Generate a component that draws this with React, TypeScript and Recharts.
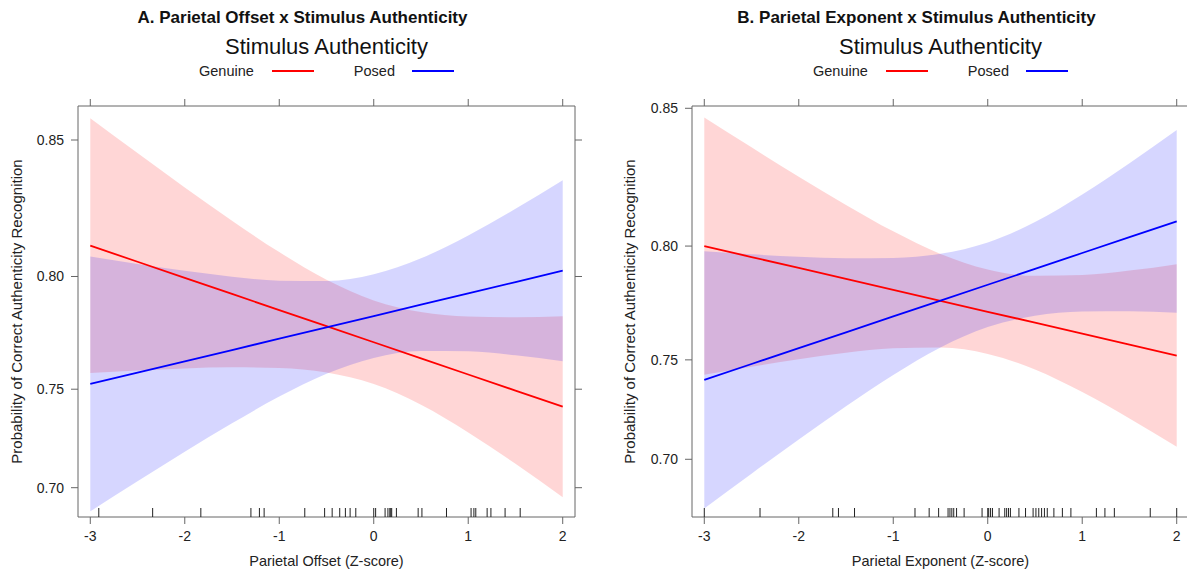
import React from "react";
import { ComposedChart, Area, Line, Scatter, XAxis, YAxis, Label } from "recharts";

// z-score grid the effects were evaluated at
const zGrid = [-3, -2.5, -2, -1.5, -1, -0.5, 0, 0.5, 1, 1.5, 2];

// A. Parietal Offset — predicted probabilities + 95% band
const offsetGenuineFit = [0.8123, 0.80595, 0.79945, 0.79277, 0.78594, 0.77894, 0.77179, 0.76447, 0.75698, 0.74934, 0.74154];
const offsetGenuineLower = [0.75767, 0.75889, 0.75983, 0.76034, 0.75998, 0.75788, 0.75243, 0.74247, 0.72875, 0.71261, 0.69489];
const offsetGenuineUpper = [0.85694, 0.8457, 0.83392, 0.82182, 0.80977, 0.79866, 0.79005, 0.78511, 0.78317, 0.78281, 0.78328];
const offsetPosedFit = [0.7525, 0.75784, 0.76311, 0.76829, 0.7734, 0.77842, 0.78336, 0.78823, 0.79301, 0.79772, 0.80234];
const offsetPosedLower = [0.68717, 0.70342, 0.71889, 0.73336, 0.74644, 0.75733, 0.76469, 0.76779, 0.76768, 0.76586, 0.76316];
const offsetPosedUpper = [0.80801, 0.80505, 0.80229, 0.7999, 0.79827, 0.79818, 0.80094, 0.80732, 0.81624, 0.82622, 0.83643];
const offsetRug = [
  -2.91, -2.34, -1.83, -1.3, -1.21, -1.16, -0.73, -0.52, -0.44, -0.36, -0.3, -0.25, -0.19, 0.0, 0.02,
  0.12, 0.15, 0.17, 0.18, 0.19, 0.24, 0.47, 0.51, 0.77, 1.03, 1.06, 1.08, 1.2, 1.24, 1.39, 1.55,
];

// B. Parietal Exponent
const exponentGenuineFit = [0.8, 0.79553, 0.791, 0.78638, 0.7817, 0.77695, 0.77211, 0.76721, 0.76224, 0.7572, 0.75206];
const exponentGenuineLower = [0.74292, 0.74674, 0.75028, 0.75331, 0.75542, 0.75577, 0.75279, 0.74541, 0.73441, 0.72117, 0.70655];
const exponentGenuineUpper = [0.84702, 0.83698, 0.82659, 0.81613, 0.80588, 0.7968, 0.79036, 0.78768, 0.788, 0.7899, 0.79258];
const exponentPosedFit = [0.7404, 0.74804, 0.7555, 0.76283, 0.77001, 0.77703, 0.78389, 0.79062, 0.79718, 0.80356, 0.80982];
const exponentPosedLower = [0.67326, 0.6923, 0.7104, 0.72736, 0.74279, 0.75586, 0.76525, 0.77033, 0.7722, 0.77236, 0.7717];
const exponentPosedUpper = [0.7979, 0.79665, 0.79561, 0.79499, 0.79516, 0.79688, 0.80144, 0.80954, 0.82003, 0.83142, 0.84286];
const exponentRug = [
  -3.0, -2.41, -1.64, -1.58, -1.41, -0.77, -0.62, -0.52, -0.42, -0.4, -0.38, -0.36, -0.33, -0.25, -0.06,
  0.0, 0.01, 0.03, 0.05, 0.12, 0.18, 0.2, 0.22, 0.24, 0.33, 0.4, 0.48, 0.51, 0.54, 0.57, 0.6, 0.63, 0.7,
  0.79, 0.88, 1.15, 1.24, 1.34, 1.72, 2.0,
];

const xTicks = [-3, -2, -1, 0, 1, 2];
const probTicks = [0.7, 0.75, 0.8, 0.85];

const RED = "#ff0000";
const BLUE = "#0000ff";
const AXIS = "#666666";
const FONT = '"Liberation Sans", Arial, Helvetica, sans-serif';

// y axis is on the logit scale, labelled in probabilities
const logit = (p: number) => Math.log(p / (1 - p));
const invLogit = (v: number) => 1 / (1 + Math.exp(-v));

function buildRows(
  fitG: number[], loG: number[], hiG: number[],
  fitP: number[], loP: number[], hiP: number[]
) {
  return zGrid.map((x, i) => ({
    x,
    genuine: logit(fitG[i]),
    genuineBand: [logit(loG[i]), logit(hiG[i])],
    posed: logit(fitP[i]),
    posedBand: [logit(loP[i]), logit(hiP[i])],
  }));
}

const blankTick = () => <g />;

const RugMark = (props: any) => (
  <line x1={props.cx} x2={props.cx} y1={props.cy} y2={props.cy - 9} stroke="#222" strokeWidth={1} />
);

interface PanelProps {
  left: number;
  title: string;
  xLabel: string;
  rows: any[];
  rug: number[];
  yDomain: [number, number];
  axisWidth: number;
  chartWidth: number;
  yLabelOffset: number;
}

function Panel({ left, title, xLabel, rows, rug, yDomain, axisWidth, chartWidth, yLabelOffset }: PanelProps) {
  const plotLeft = axisWidth;
  const plotRight = chartWidth - 25;
  const plotCenter = (plotLeft + plotRight) / 2;
  const rugRows = rug.map((x) => ({ x, y: yDomain[0] }));
  const yTicks = probTicks.map(logit);

  return (
    <div style={{ position: "absolute", left, top: 0, width: chartWidth, height: 572 }}>
      <div
        style={{
          position: "absolute",
          left: plotCenter - 24 - 300,
          width: 600,
          top: 8,
          textAlign: "center",
          fontSize: 17,
          fontWeight: "bold",
          lineHeight: "20px",
          color: "#111",
        }}
      >
        {title}
      </div>
      <div
        style={{
          position: "absolute",
          left: plotCenter - 300,
          width: 600,
          top: 34,
          textAlign: "center",
          fontSize: 22,
          lineHeight: "26px",
          color: "#111",
        }}
      >
        Stimulus Authenticity
      </div>
      <div
        style={{
          position: "absolute",
          left: plotCenter - 300,
          width: 600,
          top: 62,
          height: 18,
          display: "flex",
          justifyContent: "center",
          alignItems: "center",
          fontSize: 14.5,
          lineHeight: "18px",
          color: "#222",
        }}
      >
        <span>Genuine</span>
        <span style={{ width: 42, height: 2.5, background: RED, marginLeft: 18, marginRight: 40 }} />
        <span>Posed</span>
        <span style={{ width: 42, height: 2.5, background: BLUE, marginLeft: 17 }} />
      </div>

      <ComposedChart
        width={chartWidth}
        height={572}
        data={rows}
        margin={{ top: 0, right: 0, bottom: 0, left: 0 }}
      >
        <XAxis
          dataKey="x"
          type="number"
          domain={[-3.13, 2.13]}
          ticks={xTicks}
          allowDataOverflow
          height={55}
          tickSize={7}
          tickMargin={7}
          stroke={AXIS}
          tick={{ fill: "#222", fontSize: 14 }}
          tickFormatter={(v: number) => String(v)}
        >
          <Label value={xLabel} position="insideBottom" offset={6} fill="#222" fontSize={14.5} />
        </XAxis>
        <XAxis
          xAxisId="top"
          orientation="top"
          dataKey="x"
          type="number"
          domain={[-3.13, 2.13]}
          ticks={xTicks}
          allowDataOverflow
          height={106}
          tickSize={7}
          stroke={AXIS}
          tick={blankTick}
        />
        <YAxis
          type="number"
          domain={yDomain}
          ticks={yTicks}
          allowDataOverflow
          width={axisWidth}
          tickSize={7}
          tickMargin={7}
          stroke={AXIS}
          tick={{ fill: "#222", fontSize: 14 }}
          tickFormatter={(v: number) => invLogit(v).toFixed(2)}
        >
          <Label
            value="Probability of Correct Authenticity Recognition"
            angle={-90}
            position="insideLeft"
            offset={yLabelOffset}
            fill="#222"
            fontSize={15}
            style={{ textAnchor: "middle" }}
          />
        </YAxis>
        <YAxis
          yAxisId="right"
          orientation="right"
          type="number"
          domain={yDomain}
          ticks={yTicks}
          allowDataOverflow
          width={25}
          tickSize={7}
          stroke={AXIS}
          tick={blankTick}
        />
        <Area
          dataKey="genuineBand"
          type="monotone"
          stroke="none"
          fill={RED}
          fillOpacity={0.16}
          isAnimationActive={false}
          activeDot={false}
        />
        <Area
          dataKey="posedBand"
          type="monotone"
          stroke="none"
          fill={BLUE}
          fillOpacity={0.16}
          isAnimationActive={false}
          activeDot={false}
        />
        <Line dataKey="genuine" type="linear" stroke={RED} strokeWidth={1.8} dot={false} isAnimationActive={false} />
        <Line dataKey="posed" type="linear" stroke={BLUE} strokeWidth={1.8} dot={false} isAnimationActive={false} />
        <Scatter data={rugRows} dataKey="y" shape={RugMark} isAnimationActive={false} />
      </ComposedChart>
    </div>
  );
}

const offsetRows = buildRows(
  offsetGenuineFit, offsetGenuineLower, offsetGenuineUpper,
  offsetPosedFit, offsetPosedLower, offsetPosedUpper
);
const exponentRows = buildRows(
  exponentGenuineFit, exponentGenuineLower, exponentGenuineUpper,
  exponentPosedFit, exponentPosedLower, exponentPosedUpper
);

export default function App() {
  return (
    <div
      style={{
        position: "fixed",
        left: 0,
        top: 0,
        width: 1187,
        height: 572,
        overflow: "hidden",
        background: "#fff",
        fontFamily: FONT,
      }}
    >
      <Panel
        left={0}
        title="A. Parietal Offset x Stimulus Authenticity"
        xLabel="Parietal Offset (Z-score)"
        rows={offsetRows}
        rug={offsetRug}
        yDomain={[0.7725, 1.8214]}
        axisWidth={78}
        chartWidth={600}
        yLabelOffset={17}
      />
      <Panel
        left={600}
        title="B. Parietal Exponent x Stimulus Authenticity"
        xLabel="Parietal Exponent (Z-score)"
        rows={exponentRows}
        rug={exponentRug}
        yDomain={[0.7014, 1.7404]}
        axisWidth={92}
        chartWidth={614}
        yLabelOffset={30}
      />
    </div>
  );
}
